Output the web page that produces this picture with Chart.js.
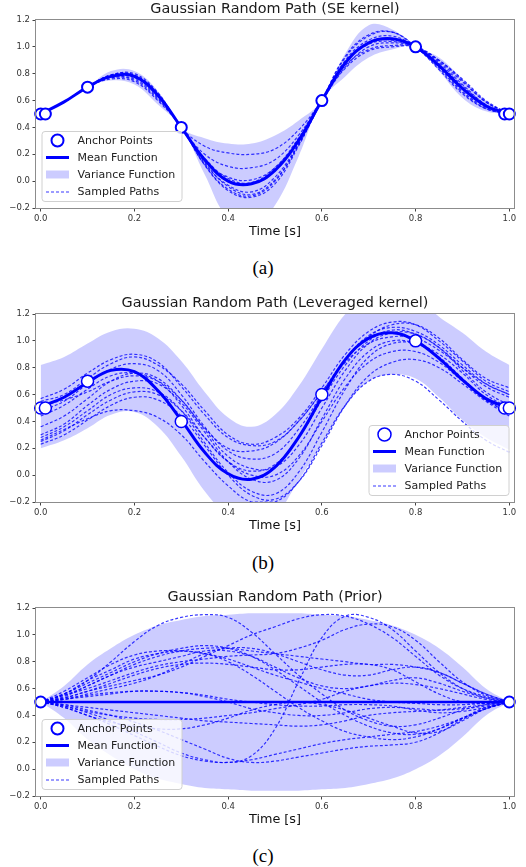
<!DOCTYPE html>
<html lang="en">
<head>
<meta charset="UTF-8">
<title>Gaussian Random Path</title>
<script src="https://cdn.jsdelivr.net/npm/chart.js"></script>
<style>
    body { margin: 0; background: #fff; }
    .panel { position: absolute; left: 0; width: 526px; height: 246px; }
    .caption {
        position: absolute; left: 0; width: 526px; text-align: center;
        font-family: "Liberation Serif", "DejaVu Serif", serif;
        font-size: 19px; line-height: 24px; color: #000;
    }
</style>
</head>
<body>

<div class="panel" style="top:0px"><canvas id="chartA" width="526" height="246"></canvas></div>
<div class="caption" style="top:256px">(a)</div>

<div class="panel" style="top:294px"><canvas id="chartB" width="526" height="246"></canvas></div>
<div class="caption" style="top:551px">(b)</div>

<div class="panel" style="top:588px"><canvas id="chartC" width="526" height="246"></canvas></div>
<div class="caption" style="top:844px">(c)</div>

<script>
// common grid and ticks
const TIMES = [0, 0.05, 0.1, 0.15, 0.2, 0.25, 0.3, 0.35, 0.4, 0.45, 0.5, 0.55, 0.6, 0.65, 0.7, 0.75, 0.8, 0.85, 0.9, 0.95, 1];
const X_TICKS = [0, 0.2, 0.4, 0.6, 0.8, 1.0];
const Y_TICKS = [-0.2, 0, 0.2, 0.4, 0.6, 0.8, 1.0, 1.2];
const LEGEND_LABELS = ['Anchor Points', 'Mean Function', 'Variance Function', 'Sampled Paths'];

// (a) SE kernel
const A_ANCHOR_T = [0, 0.01, 0.1, 0.3, 0.6, 0.8, 0.99, 1.0];
const A_ANCHOR_V = [0.5, 0.5, 0.7, 0.4, 0.6, 1.0, 0.5, 0.5];
const A_MEAN  = [0.50, 0.59, 0.70, 0.78, 0.78, 0.64, 0.40, 0.16, 0.00, -0.02, 0.08, 0.30, 0.60, 0.88, 1.03, 1.06, 1.00, 0.86, 0.69, 0.56, 0.50];
const A_UPPER = [0.50, 0.59, 0.70, 0.82, 0.82, 0.67, 0.40, 0.32, 0.28, 0.28, 0.34, 0.45, 0.60, 0.95, 1.16, 1.13, 1.00, 0.92, 0.76, 0.60, 0.50];
const A_LOWER = [0.50, 0.59, 0.70, 0.75, 0.72, 0.57, 0.40, 0.05, -0.28, -0.35, -0.18, 0.18, 0.60, 0.78, 0.92, 0.98, 1.00, 0.82, 0.62, 0.52, 0.50];
const A_PATHS = [
    [0.50, 0.59, 0.70, 0.79, 0.80, 0.66, 0.40, 0.26, 0.21, 0.20, 0.24, 0.38, 0.60, 0.86, 0.98, 1.01, 1.00, 0.88, 0.72, 0.57, 0.50],
    [0.50, 0.59, 0.70, 0.79, 0.79, 0.65, 0.40, 0.20, 0.11, 0.10, 0.16, 0.34, 0.60, 0.84, 0.97, 1.00, 1.00, 0.90, 0.75, 0.59, 0.50],
    [0.50, 0.59, 0.70, 0.78, 0.78, 0.64, 0.40, 0.15, 0.03, 0.01, 0.10, 0.32, 0.60, 0.90, 1.05, 1.08, 1.00, 0.85, 0.67, 0.55, 0.50],
    [0.50, 0.59, 0.70, 0.77, 0.76, 0.62, 0.40, 0.13, -0.03, -0.08, 0.03, 0.28, 0.60, 0.92, 1.08, 1.11, 1.00, 0.83, 0.65, 0.54, 0.50],
    [0.50, 0.59, 0.70, 0.77, 0.75, 0.61, 0.40, 0.12, -0.06, -0.11, 0.00, 0.27, 0.60, 0.93, 1.09, 1.11, 1.00, 0.84, 0.66, 0.54, 0.50],
    [0.50, 0.59, 0.70, 0.76, 0.74, 0.60, 0.40, 0.12, -0.07, -0.12, -0.02, 0.26, 0.60, 0.89, 1.03, 1.05, 1.00, 0.89, 0.74, 0.59, 0.50],
    [0.50, 0.59, 0.70, 0.79, 0.79, 0.65, 0.40, 0.17, 0.02, -0.01, 0.10, 0.31, 0.60, 0.85, 1.00, 1.03, 1.00, 0.90, 0.76, 0.60, 0.50],
    [0.50, 0.59, 0.70, 0.78, 0.77, 0.63, 0.40, 0.14, -0.04, -0.10, 0.01, 0.27, 0.60, 0.88, 1.02, 1.04, 1.00, 0.87, 0.71, 0.57, 0.50]
];

// (b) Leveraged kernel
const B_ANCHOR_T = [0, 0.01, 0.1, 0.3, 0.6, 0.8, 0.99, 1.0];
const B_ANCHOR_V = [0.5, 0.5, 0.7, 0.4, 0.6, 1.0, 0.5, 0.5];
const B_MEAN  = [0.51, 0.58, 0.69, 0.78, 0.77, 0.63, 0.41, 0.17, 0.01, -0.03, 0.06, 0.28, 0.58, 0.86, 1.02, 1.06, 1.00, 0.87, 0.71, 0.57, 0.50];
const B_UPPER = [0.82, 0.88, 0.98, 1.07, 1.09, 1.02, 0.85, 0.62, 0.43, 0.36, 0.45, 0.66, 0.94, 1.20, 1.35, 1.38, 1.33, 1.18, 1.06, 0.92, 0.82];
const B_LOWER = [0.20, 0.26, 0.35, 0.45, 0.47, 0.36, 0.14, -0.12, -0.30, -0.36, -0.30, -0.04, 0.23, 0.51, 0.70, 0.75, 0.72, 0.58, 0.41, 0.28, 0.19];
const B_PATHS = [
    [0.57, 0.64, 0.76, 0.86, 0.90, 0.84, 0.66, 0.45, 0.28, 0.22, 0.25, 0.40, 0.62, 0.86, 1.03, 1.12, 1.12, 1.02, 0.86, 0.72, 0.65],
    [0.55, 0.60, 0.72, 0.83, 0.88, 0.82, 0.68, 0.48, 0.30, 0.23, 0.28, 0.42, 0.65, 0.90, 1.07, 1.14, 1.12, 1.00, 0.85, 0.70, 0.62],
    [0.48, 0.55, 0.68, 0.79, 0.83, 0.78, 0.60, 0.36, 0.18, 0.12, 0.16, 0.34, 0.60, 0.86, 1.04, 1.10, 1.07, 0.97, 0.82, 0.68, 0.60],
    [0.44, 0.52, 0.64, 0.74, 0.76, 0.70, 0.52, 0.28, 0.10, 0.03, 0.08, 0.28, 0.56, 0.82, 1.00, 1.08, 1.05, 0.95, 0.80, 0.66, 0.58],
    [0.36, 0.44, 0.57, 0.70, 0.76, 0.72, 0.56, 0.34, 0.14, 0.05, 0.06, 0.22, 0.50, 0.78, 0.98, 1.06, 1.05, 0.95, 0.78, 0.62, 0.52],
    [0.30, 0.38, 0.52, 0.64, 0.70, 0.68, 0.54, 0.32, 0.10, -0.03, -0.04, 0.12, 0.42, 0.72, 0.92, 1.00, 0.98, 0.88, 0.72, 0.56, 0.47],
    [0.28, 0.36, 0.48, 0.60, 0.65, 0.62, 0.48, 0.24, 0.02, -0.12, -0.14, 0.02, 0.32, 0.64, 0.88, 0.98, 0.98, 0.90, 0.76, 0.60, 0.50],
    [0.25, 0.33, 0.45, 0.56, 0.62, 0.60, 0.48, 0.28, 0.10, 0.00, 0.00, 0.14, 0.40, 0.66, 0.84, 0.92, 0.92, 0.84, 0.70, 0.56, 0.46],
    [0.23, 0.30, 0.41, 0.52, 0.58, 0.56, 0.44, 0.22, 0.00, -0.15, -0.18, -0.05, 0.22, 0.52, 0.74, 0.84, 0.86, 0.80, 0.68, 0.55, 0.44],
    [0.26, 0.34, 0.42, 0.48, 0.48, 0.43, 0.30, 0.10, -0.08, -0.20, -0.20, -0.05, 0.24, 0.52, 0.70, 0.75, 0.70, 0.56, 0.40, 0.26, 0.17],
    [0.52, 0.56, 0.62, 0.70, 0.74, 0.70, 0.56, 0.35, 0.20, 0.18, 0.24, 0.40, 0.62, 0.84, 0.98, 1.03, 1.02, 0.93, 0.80, 0.68, 0.60]
];

// (c) Prior
const C_ANCHOR_T = [0, 1.0];
const C_ANCHOR_V = [0.5, 0.5];
const C_MEAN  = [0.50, 0.50, 0.50, 0.50, 0.50, 0.50, 0.50, 0.50, 0.50, 0.50, 0.50, 0.50, 0.50, 0.50, 0.50, 0.50, 0.50, 0.50, 0.50, 0.50, 0.50];
const C_UPPER = [0.50, 0.62, 0.78, 0.90, 1.00, 1.07, 1.11, 1.14, 1.15, 1.16, 1.16, 1.16, 1.15, 1.14, 1.11, 1.07, 1.00, 0.90, 0.76, 0.60, 0.50];
const C_LOWER = [0.50, 0.38, 0.22, 0.10, 0.00, -0.07, -0.11, -0.14, -0.15, -0.16, -0.16, -0.16, -0.15, -0.14, -0.11, -0.07, 0.00, 0.10, 0.24, 0.40, 0.50];
const C_PATHS = [
    [0.50, 0.56, 0.66, 0.80, 0.95, 1.07, 1.13, 1.15, 1.13, 1.02, 0.86, 0.70, 0.56, 0.44, 0.36, 0.32, 0.33, 0.38, 0.44, 0.48, 0.50],
    [0.50, 0.47, 0.42, 0.36, 0.28, 0.20, 0.12, 0.07, 0.05, 0.10, 0.30, 0.65, 0.98, 1.14, 1.13, 1.04, 0.88, 0.72, 0.60, 0.53, 0.50],
    [0.50, 0.55, 0.62, 0.70, 0.78, 0.84, 0.88, 0.90, 0.90, 0.88, 0.86, 0.84, 0.82, 0.80, 0.78, 0.78, 0.76, 0.72, 0.64, 0.56, 0.50],
    [0.50, 0.46, 0.40, 0.33, 0.25, 0.17, 0.10, 0.06, 0.05, 0.07, 0.11, 0.15, 0.19, 0.22, 0.24, 0.26, 0.28, 0.32, 0.38, 0.45, 0.50],
    [0.50, 0.58, 0.68, 0.78, 0.85, 0.88, 0.88, 0.86, 0.82, 0.76, 0.70, 0.65, 0.60, 0.56, 0.52, 0.50, 0.49, 0.48, 0.48, 0.49, 0.50],
    [0.50, 0.56, 0.64, 0.72, 0.80, 0.86, 0.90, 0.92, 0.90, 0.84, 0.74, 0.62, 0.50, 0.40, 0.32, 0.27, 0.26, 0.30, 0.38, 0.45, 0.50],
    [0.50, 0.53, 0.58, 0.62, 0.66, 0.70, 0.76, 0.84, 0.92, 1.00, 1.06, 1.12, 1.15, 1.14, 1.08, 0.98, 0.84, 0.70, 0.60, 0.54, 0.50],
    [0.50, 0.52, 0.56, 0.60, 0.64, 0.70, 0.78, 0.86, 0.90, 0.90, 0.86, 0.80, 0.74, 0.70, 0.70, 0.74, 0.76, 0.72, 0.64, 0.56, 0.50],
    [0.50, 0.47, 0.43, 0.40, 0.38, 0.37, 0.37, 0.38, 0.40, 0.42, 0.45, 0.48, 0.52, 0.58, 0.62, 0.64, 0.63, 0.60, 0.56, 0.52, 0.50],
    [0.50, 0.46, 0.40, 0.35, 0.32, 0.30, 0.30, 0.33, 0.38, 0.44, 0.48, 0.50, 0.48, 0.44, 0.38, 0.32, 0.27, 0.28, 0.36, 0.45, 0.50],
    [0.50, 0.55, 0.60, 0.66, 0.72, 0.77, 0.80, 0.82, 0.84, 0.85, 0.86, 0.90, 0.96, 1.04, 1.08, 1.06, 0.96, 0.80, 0.65, 0.55, 0.50],
    [0.50, 0.48, 0.46, 0.44, 0.42, 0.40, 0.38, 0.36, 0.35, 0.34, 0.33, 0.32, 0.33, 0.36, 0.40, 0.42, 0.43, 0.44, 0.46, 0.48, 0.50],
    [0.50, 0.52, 0.55, 0.57, 0.58, 0.58, 0.57, 0.54, 0.50, 0.45, 0.42, 0.40, 0.40, 0.42, 0.45, 0.46, 0.45, 0.44, 0.45, 0.47, 0.50],
    [0.50, 0.48, 0.44, 0.40, 0.35, 0.29, 0.22, 0.15, 0.08, 0.05, 0.06, 0.09, 0.12, 0.15, 0.17, 0.18, 0.20, 0.27, 0.37, 0.45, 0.50],
    [0.50, 0.54, 0.62, 0.70, 0.76, 0.80, 0.84, 0.88, 0.88, 0.84, 0.76, 0.68, 0.62, 0.60, 0.62, 0.66, 0.68, 0.64, 0.58, 0.53, 0.50],
    [0.50, 0.56, 0.66, 0.74, 0.82, 0.86, 0.88, 0.86, 0.80, 0.70, 0.58, 0.46, 0.36, 0.28, 0.24, 0.22, 0.24, 0.30, 0.38, 0.46, 0.50],
    [0.50, 0.52, 0.54, 0.56, 0.58, 0.58, 0.57, 0.55, 0.52, 0.50, 0.48, 0.47, 0.47, 0.48, 0.48, 0.47, 0.44, 0.42, 0.43, 0.46, 0.50],
    [0.50, 0.53, 0.58, 0.64, 0.70, 0.75, 0.78, 0.79, 0.78, 0.76, 0.74, 0.74, 0.76, 0.78, 0.78, 0.74, 0.65, 0.56, 0.50, 0.49, 0.50]
];

const BLUE = '#0000ff';
const PATH_COLOR = 'rgba(0, 0, 255, 0.78)';
const BAND_COLOR = 'rgba(0, 0, 255, 0.2)';
const FONT = '"DejaVu Sans", "Liberation Sans", sans-serif';

function toPoints(values) {
    return values.map((v, i) => ({ x: TIMES[i], y: v }));
}

function buildDatasets(anchorT, anchorV, mean, upper, lower, paths, st) {
    const ds = [];
    ds.push({
        label: 'Anchor Points',
        data: anchorT.map((t, i) => ({ x: t, y: anchorV[i] })),
        showLine: false,
        pointRadius: st.anchorR,
        pointBorderWidth: st.anchorW,
        pointBackgroundColor: '#ffffff',
        pointBorderColor: BLUE,
        clip: false,
        order: 0
    });
    ds.push({
        label: 'Mean Function',
        data: toPoints(mean),
        borderColor: BLUE,
        borderWidth: st.meanW,
        pointRadius: 0,
        tension: 0.4,
        order: 1
    });
    paths.forEach(p => ds.push({
        label: 'Sampled Paths',
        data: toPoints(p),
        borderColor: PATH_COLOR,
        borderWidth: 1.2,
        borderDash: [3, 2],
        pointRadius: 0,
        tension: 0.4,
        order: 2
    }));
    // band: upper fills down to the next dataset (lower)
    ds.push({
        label: 'Variance Function',
        data: toPoints(upper),
        borderWidth: 0,
        pointRadius: 0,
        tension: 0.4,
        fill: '+1',
        backgroundColor: BAND_COLOR,
        order: 3
    });
    ds.push({
        label: 'lower',
        data: toPoints(lower),
        borderWidth: 0,
        pointRadius: 0,
        tension: 0.4,
        fill: false,
        order: 3
    });
    return ds;
}

// axes frame on all four sides
const framePlugin = {
    id: 'frame',
    afterDatasetsDraw(chart) {
        const { ctx, chartArea: a } = chart;
        ctx.save();
        ctx.strokeStyle = '#8c8c8c';
        ctx.lineWidth = 1;
        ctx.strokeRect(a.left - 0.5, a.top - 0.5, a.right - a.left + 1, a.bottom - a.top + 1);
        ctx.restore();
    }
};

// matplotlib style legend box inside the plot
const boxLegend = {
    id: 'boxLegend',
    afterDraw(chart, args, o) {
        const { ctx, chartArea: a } = chart;
        const w = 140, h = 70;
        const x0 = o.side === 'right' ? a.right - 5 - w : a.left + 6;
        const y0 = a.bottom - 6.5 - h;
        ctx.save();
        ctx.beginPath();
        ctx.roundRect(x0, y0, w, h, 3);
        ctx.fillStyle = 'rgba(255,255,255,0.8)';
        ctx.fill();
        ctx.strokeStyle = '#d0d0d0';
        ctx.lineWidth = 1;
        ctx.stroke();

        const rows = [9, 26, 43, 60].map(r => y0 + r);
        // anchor marker
        ctx.beginPath();
        ctx.arc(x0 + 15.5, rows[0], o.anchorR, 0, Math.PI * 2);
        ctx.fillStyle = '#fff';
        ctx.fill();
        ctx.strokeStyle = BLUE;
        ctx.lineWidth = o.anchorW;
        ctx.stroke();
        // mean line
        ctx.beginPath();
        ctx.moveTo(x0 + 4, rows[1]);
        ctx.lineTo(x0 + 27, rows[1]);
        ctx.strokeStyle = BLUE;
        ctx.lineWidth = 3;
        ctx.stroke();
        // band patch
        ctx.fillStyle = BAND_COLOR;
        ctx.fillRect(x0 + 4, rows[2] - 4, 23, 8);
        // dashed path
        ctx.beginPath();
        ctx.setLineDash([3, 2]);
        ctx.moveTo(x0 + 4, rows[3] + 0.5);
        ctx.lineTo(x0 + 27, rows[3] + 0.5);
        ctx.strokeStyle = PATH_COLOR;
        ctx.lineWidth = 1.2;
        ctx.stroke();
        ctx.setLineDash([]);

        ctx.fillStyle = '#222';
        ctx.font = '11px ' + FONT;
        ctx.textBaseline = 'middle';
        LEGEND_LABELS.forEach((t, i) => ctx.fillText(t, x0 + 35.5, rows[i] + 0.5));
        ctx.restore();
    }
};

function fmtY(v) {
    return (v < 0 ? '\u2212' : '') + Math.abs(v).toFixed(1);
}

function makePanel(id, title, datasets, legendSide, st) {
    const tickFont = { family: FONT, size: 8.5 };
    new Chart(document.getElementById(id), {
        type: 'line',
        data: { datasets: datasets },
        plugins: [framePlugin, boxLegend],
        options: {
            responsive: false,
            animation: false,
            events: [],
            layout: { padding: { top: 0, right: 12, bottom: 0, left: 0 } },
            plugins: {
                legend: { display: false },
                tooltip: { enabled: false },
                title: {
                    display: true,
                    text: title,
                    fullSize: false,
                    color: '#1a1a1a',
                    font: { family: FONT, size: 14.4, weight: 'normal' },
                    padding: { top: 1, bottom: 1.72 }
                },
                boxLegend: { side: legendSide, anchorR: st.anchorR + 0.5, anchorW: st.anchorW }
            },
            scales: {
                x: {
                    type: 'linear',
                    min: -0.01,
                    max: 1.01,
                    afterBuildTicks: s => { s.ticks = X_TICKS.map(v => ({ value: v })); },
                    afterFit: s => { s.height = 38; },
                    ticks: {
                        callback: v => v.toFixed(1),
                        font: tickFont, color: '#333',
                        padding: 2.5, maxRotation: 0, autoSkip: false
                    },
                    grid: { drawOnChartArea: false, tickLength: 3.5, color: '#444' },
                    border: { display: false },
                    title: {
                        display: true,
                        text: 'Time [s]',
                        color: '#111',
                        font: { family: FONT, size: 12.8 },
                        padding: { top: 0, bottom: 7 }
                    }
                },
                y: {
                    min: -0.2,
                    max: 1.2,
                    afterBuildTicks: s => { s.ticks = Y_TICKS.map(v => ({ value: v })); },
                    afterFit: s => { s.width = 36; },
                    ticks: { callback: fmtY, font: tickFont, color: '#333', padding: 2.5 },
                    grid: { drawOnChartArea: false, tickLength: 3.5, color: '#444' },
                    border: { display: false }
                }
            }
        }
    });
}

const styleA = { anchorR: 5.5, anchorW: 2, meanW: 3 };
const styleB = { anchorR: 6, anchorW: 1.5, meanW: 3 };
const styleC = { anchorR: 5.5, anchorW: 2, meanW: 2.5 };

makePanel('chartA', 'Gaussian Random Path (SE kernel)',
    buildDatasets(A_ANCHOR_T, A_ANCHOR_V, A_MEAN, A_UPPER, A_LOWER, A_PATHS, styleA), 'left', styleA);
makePanel('chartB', 'Gaussian Random Path (Leveraged kernel)',
    buildDatasets(B_ANCHOR_T, B_ANCHOR_V, B_MEAN, B_UPPER, B_LOWER, B_PATHS, styleB), 'right', styleB);
makePanel('chartC', 'Gaussian Random Path (Prior)',
    buildDatasets(C_ANCHOR_T, C_ANCHOR_V, C_MEAN, C_UPPER, C_LOWER, C_PATHS, styleC), 'left', styleC);
</script>

</body>
</html>
